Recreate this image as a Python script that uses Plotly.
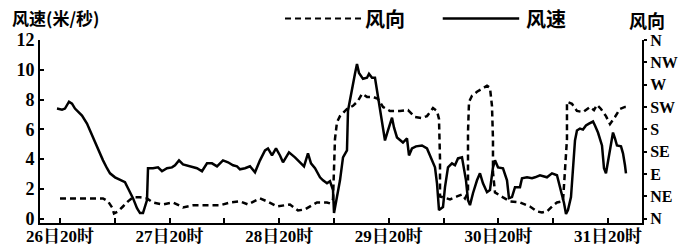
import plotly.graph_objects as go

# hours since 26日20时
speed_h = [-0.66, 0.44, 1.09, 1.97, 2.63, 3.28, 4.82, 5.91, 6.57, 7.23, 8.10, 8.76, 9.42, 10.29, 10.95,
           12.04, 13.58, 14.23, 14.89, 15.98, 16.86, 17.52, 18.17, 19.05, 19.27, 19.71, 20.36, 21.46,
           22.33, 23.43, 24.52, 25.18, 26.06, 26.93, 28.46, 30.00, 31.09, 32.19, 33.28, 34.38, 35.69,
           36.79, 37.88, 38.76, 39.41, 40.51, 41.60, 42.70, 43.79, 44.89, 45.54, 46.42, 47.30, 48.17,
           48.83, 50.14, 51.45, 52.55, 53.43, 54.30, 54.96, 55.84, 56.93, 57.59, 58.46, 59.12, 59.78,
           60.00, 60.65, 61.31, 61.97, 62.84, 63.06, 63.94, 64.59, 65.03, 65.47, 66.35, 67.22, 67.66,
           68.32, 68.97, 69.41, 70.07, 70.73, 71.16, 71.82, 72.70, 73.13, 73.79, 75.10, 75.98, 76.42,
           77.07, 77.95, 79.26, 80.36, 81.24, 82.11, 82.55, 82.99, 83.86, 84.30, 84.96, 85.83, 86.49,
           87.15, 88.02, 88.46, 88.90, 89.34, 89.77, 90.43, 91.31, 91.96, 92.62, 93.50, 94.15, 94.81,
           95.25, 95.91, 97.00, 97.88, 98.31, 98.97, 99.63, 100.72, 101.16, 102.26, 103.35, 104.01,
           105.10, 106.63, 107.73, 108.82, 109.26, 109.92, 110.36, 110.80, 111.23, 111.89, 112.33,
           112.77, 113.20, 113.86, 114.52, 115.17, 115.83, 116.71, 117.14, 117.80, 118.68, 119.12,
           119.55, 119.99, 120.65, 121.09, 121.52, 121.96, 122.84, 123.28, 123.71, 123.93]
speed_v = [7.39, 7.32, 7.39, 7.85, 7.72, 7.39, 6.92, 6.38, 5.92, 5.45, 4.78, 4.38, 3.91, 3.38, 3.04,
           2.77, 2.57, 2.44, 2.04, 1.37, 0.70, 0.37, 0.37, 1.24, 3.38, 3.38, 3.38, 3.44,
           3.18, 3.38, 3.44, 3.58, 3.91, 3.64, 3.51, 3.38, 3.18, 3.71, 3.71, 3.51, 3.91,
           3.78, 3.58, 3.51, 3.31, 3.38, 3.51, 3.11, 3.91, 4.58, 4.71, 4.24, 4.71, 4.24,
           3.78, 4.45, 4.11, 3.78, 3.51, 4.38, 3.71, 3.38, 2.77, 2.57, 2.37, 2.51, 1.91,
           0.37, 1.44, 2.57, 4.11, 4.58, 7.25, 8.79, 9.73, 10.39, 9.79, 9.39, 9.46, 9.73,
           9.46, 9.46, 8.59, 7.45, 6.12, 5.25, 5.92, 6.78, 6.12, 5.45, 5.11, 5.38, 4.24,
           4.71, 4.85, 4.91, 4.71, 4.11, 3.44, 2.37, 0.57, 0.77, 2.11, 3.44, 3.71, 3.58,
           4.04, 4.11, 3.44, 2.57, 1.24, 0.90, 1.70, 2.57, 3.04, 2.37, 1.77, 1.91, 3.44,
           3.91, 3.44, 3.38, 2.57, 1.37, 1.44, 2.11, 2.11, 2.71, 2.77, 2.71, 2.77,
           2.91, 2.77, 3.04, 2.91, 2.37, 1.70, 1.04, 0.30, 0.57, 1.44, 3.44,
           5.25, 5.92, 6.05, 5.98, 6.25, 6.38, 6.52, 6.25, 5.78, 4.91, 3.38,
           3.04, 3.91, 5.11, 5.78, 5.38, 4.91, 4.85, 4.38, 3.58, 3.04]

# wind direction: 0=N,1=NE,2=E,3=SE,4=S,5=SW,6=W,7=NW,8=N
dir_h = [0.0, 9.42, 10.51, 11.39, 11.82, 12.70, 13.79, 14.89, 15.98, 17.52, 19.05, 20.36, 22.55, 24.74,
         26.93, 29.12, 32.19, 35.03, 37.22, 39.41, 41.16, 42.70, 43.79, 45.33, 47.51, 50.36, 52.11,
         53.65, 56.27, 58.46, 59.12, 59.78, 60.00, 60.21, 60.65, 61.31, 62.84, 64.16, 65.25, 66.13,
         67.22, 68.54, 69.63, 70.73, 72.26, 74.45, 76.20, 77.73, 79.26, 80.36, 81.67, 82.55, 82.99,
         83.21, 83.21, 85.40, 86.93, 88.02, 88.68, 89.34, 89.34, 89.56, 90.21, 91.31, 92.40, 93.50,
         94.15, 94.59, 94.81, 94.81, 95.25, 95.91, 97.00, 98.53, 100.72, 102.91, 104.45, 105.54,
         106.63, 107.73, 108.82, 110.14, 110.58, 111.01, 111.01, 112.11, 113.20, 114.52, 116.05,
         116.93, 117.58, 118.46, 119.55, 120.43, 121.52, 122.62, 123.71, 124.37]
dir_v = [0.90, 0.90, 0.77, 0.50, 0.23, 0.32, 0.54, 0.77, 0.95, 0.95, 0.90, 0.72, 0.63, 0.72,
         0.50, 0.59, 0.59, 0.59, 0.72, 0.77, 0.63, 0.77, 0.90, 0.77, 0.54, 0.63, 0.36,
         0.41, 0.72, 0.72, 0.68, 0.86, 2.07, 3.56, 4.32, 4.59, 4.91, 5.05, 5.27, 5.59,
         5.45, 5.45, 5.36, 5.00, 4.82, 4.82, 4.86, 4.55, 4.50, 4.59, 4.95, 4.82, 4.46,
         2.66, 0.99, 0.86, 0.99, 1.08, 0.90, 1.17, 3.87, 5.23, 5.50, 5.68, 5.81, 5.95,
         5.86, 5.05, 3.56, 2.07, 1.17, 1.08, 0.95, 0.77, 0.72, 0.54, 0.32, 0.27,
         0.32, 0.54, 0.72, 0.77, 2.07, 3.56, 5.23, 5.14, 4.82, 4.77, 5.00,
         4.86, 5.09, 4.91, 4.59, 4.23, 4.55, 4.91, 5.00, 5.00]

x_tickvals = [0, 24, 48, 72, 96, 120]
x_ticktext = ["26日20时", "27日20时", "28日20时", "29日20时", "30日20时", "31日20时"]
x_minor = [12, 36, 60, 84, 108]
y_ticks = [0, 2, 4, 6, 8, 10, 12]
dir_tickvals = [0, 1, 2, 3, 4, 5, 6, 7, 8]
dir_ticktext = ["N", "NE", "E", "SE", "S", "SW", "W", "NW", "N"]

FONT = "Liberation Serif, Noto Serif CJK SC, Noto Sans CJK SC, serif"
CJK = "Noto Sans CJK SC, sans-serif"

fig = go.Figure()
fig.add_trace(go.Scatter(x=speed_h, y=speed_v, mode="lines", name="风速",
                         line=dict(color="black", width=2.5), yaxis="y"))
fig.add_trace(go.Scatter(x=dir_h, y=dir_v, mode="lines", name="风向",
                         line=dict(color="black", width=2.5, dash="6px,4px"), yaxis="y2"))

fig.update_layout(
    width=694, height=248,
    margin=dict(l=40, r=52, t=39.5, b=25),
    paper_bgcolor="white", plot_bgcolor="white",
    showlegend=False,
    font=dict(family=FONT, color="black"),
    xaxis=dict(range=[-4.38, 127.44], tickvals=x_tickvals, ticktext=x_ticktext,
               ticks="inside", ticklen=5, tickwidth=2, tickcolor="black", automargin=False,
               ticklabelstandoff=-3,
               showline=True, linecolor="black", linewidth=2, showgrid=False, zeroline=False,
               tickfont=dict(family=FONT, size=17, weight="bold"),
               minor=dict(tickvals=x_minor, ticks="inside", ticklen=5, tickwidth=2, tickcolor="black")),
    yaxis=dict(range=[-0.3, 12], tickvals=y_ticks, ticks="inside", ticklen=4, tickwidth=2,
               tickcolor="black", showline=True, linecolor="black", linewidth=2, automargin=False,
               showgrid=False, zeroline=False,
               tickfont=dict(family=FONT, size=18, weight="bold")),
    yaxis2=dict(range=[-0.2, 8], tickvals=dir_tickvals, ticktext=dir_ticktext,
                overlaying="y", side="right", ticks="outside", ticklen=3, tickwidth=2,
                tickcolor="black", showline=True, linecolor="black", linewidth=2, automargin=False,
                showgrid=False, zeroline=False,
                tickfont=dict(family=FONT, size=16, weight="bold")),
)

# titles
fig.add_annotation(xref="paper", yref="paper", x=-0.05, y=1.125, xanchor="left", yanchor="middle",
                   text="风速(米/秒)", showarrow=False,
                   font=dict(family=CJK, size=17, weight="bold", color="black"))
fig.add_annotation(xref="paper", yref="paper", x=0.975, y=1.108, xanchor="left", yanchor="middle",
                   text="风向", showarrow=False,
                   font=dict(family=CJK, size=18, weight="bold", color="black"))

# legend (manual)
fig.add_shape(type="line", xref="paper", yref="paper", x0=0.407, x1=0.535, y0=1.117, y1=1.117,
              line=dict(color="black", width=2, dash="6px,4px"))
fig.add_annotation(xref="paper", yref="paper", x=0.537, y=1.117, xanchor="left", yanchor="middle",
                   text="风向", showarrow=False,
                   font=dict(family=CJK, size=20, weight="bold", color="black"))
fig.add_shape(type="line", xref="paper", yref="paper", x0=0.669, x1=0.796, y0=1.117, y1=1.117,
              line=dict(color="black", width=2.5))
fig.add_annotation(xref="paper", yref="paper", x=0.804, y=1.117, xanchor="left", yanchor="middle",
                   text="风速", showarrow=False,
                   font=dict(family=CJK, size=20, weight="bold", color="black"))

fig.write_html("out.html", config={"displayModeBar": False},
               post_script="document.body.style.margin='0';document.body.style.overflow='hidden';")
